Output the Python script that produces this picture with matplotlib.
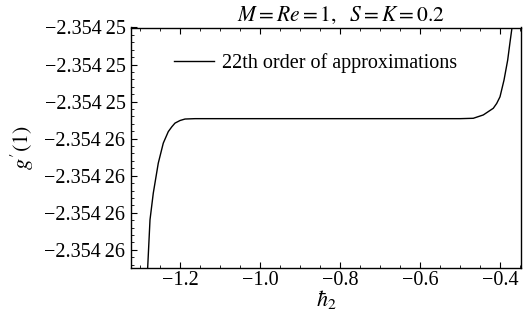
import numpy as np
import matplotlib
matplotlib.use("Agg")
from matplotlib import pyplot as plt
from matplotlib.ticker import FixedLocator, FixedFormatter, MultipleLocator

plt.rcParams['font.family'] = ['Liberation Serif', 'DejaVu Serif']
plt.rcParams['mathtext.fontset'] = 'stix'

# values
h2 = [-1.2808, -1.275, -1.2668, -1.2543, -1.2418, -1.2293, -1.2205, -1.2125, -1.2,
      -1.1875, -1.1625, -1.10, -0.90, -0.70, -0.50, -0.4668, -0.4418, -0.4168,
      -0.4083, -0.40, -0.39, -0.3808, -0.375, -0.3708, -0.37]
g1 = [-2.354255448, -2.354255319, -2.354255247, -2.354255166, -2.354255112,
      -2.354255081, -2.354255068, -2.354255058, -2.354255051, -2.354255047,
      -2.354255046, -2.354255046, -2.354255046, -2.354255046, -2.354255046,
      -2.354255045, -2.354255036, -2.354255018, -2.354255005, -2.354254987,
      -2.354254942, -2.354254888, -2.35425484, -2.3542548067, -2.3542548]

y_ticks = [-2.3542548, -2.3542549, -2.3542550, -2.3542551, -2.3542552, -2.3542553, -2.3542554]
y_labels = ["\u22122.354\u200925", "\u22122.354\u200925", "\u22122.354\u200925",
            "\u22122.354\u200926", "\u22122.354\u200926", "\u22122.354\u200926",
            "\u22122.354\u200926"]
x_ticks = [-1.2, -1.0, -0.8, -0.6, -0.4]
x_labels = ["\u22121.2", "\u22121.0", "\u22120.8", "\u22120.6", "\u22120.4"]

fig = plt.figure(figsize=(5.3, 3.23), dpi=100)
ax = fig.add_axes([131/530, 1-268/323, 390/530, 240.5/323])

ax.plot(h2, g1, color='black', lw=1.0, label='22th order of approximations')

ax.set_xlim(-1.3225, -0.3475)
ax.set_ylim(-2.354255449, -2.3542548)

ax.yaxis.set_major_locator(FixedLocator(y_ticks))
ax.yaxis.set_major_formatter(FixedFormatter(y_labels))
ax.yaxis.set_minor_locator(MultipleLocator(2e-8))
ax.xaxis.set_major_locator(FixedLocator(x_ticks))
ax.xaxis.set_major_formatter(FixedFormatter(x_labels))
ax.xaxis.set_minor_locator(MultipleLocator(0.05))

ax.tick_params(which='both', direction='in', labelsize=14.5, top=True, right=False)
ax.tick_params(which='major', length=4, width=0.8, pad=4)
ax.tick_params(axis='x', which='major', pad=2)
ax.tick_params(which='minor', length=2, width=0.6)
for s in ax.spines.values():
    s.set_linewidth(1.0)

ax.set_xlabel(r'$\hbar_2$', fontsize=16, labelpad=-1)
ax.set_ylabel(r"$g^{\prime}(1)$", fontsize=16, labelpad=6)

fig.text(341/530, 1-15/323, r'$M=Re=1,\ \ S=K=0.2$', fontsize=15.5,
         ha='center', va='center')

ax.legend(loc='upper left', bbox_to_anchor=(0.09, 0.925), frameon=False,
          fontsize=14.5, handlelength=2.0, handletextpad=0.4, borderaxespad=0)

fig.savefig("out.png", dpi=100)
